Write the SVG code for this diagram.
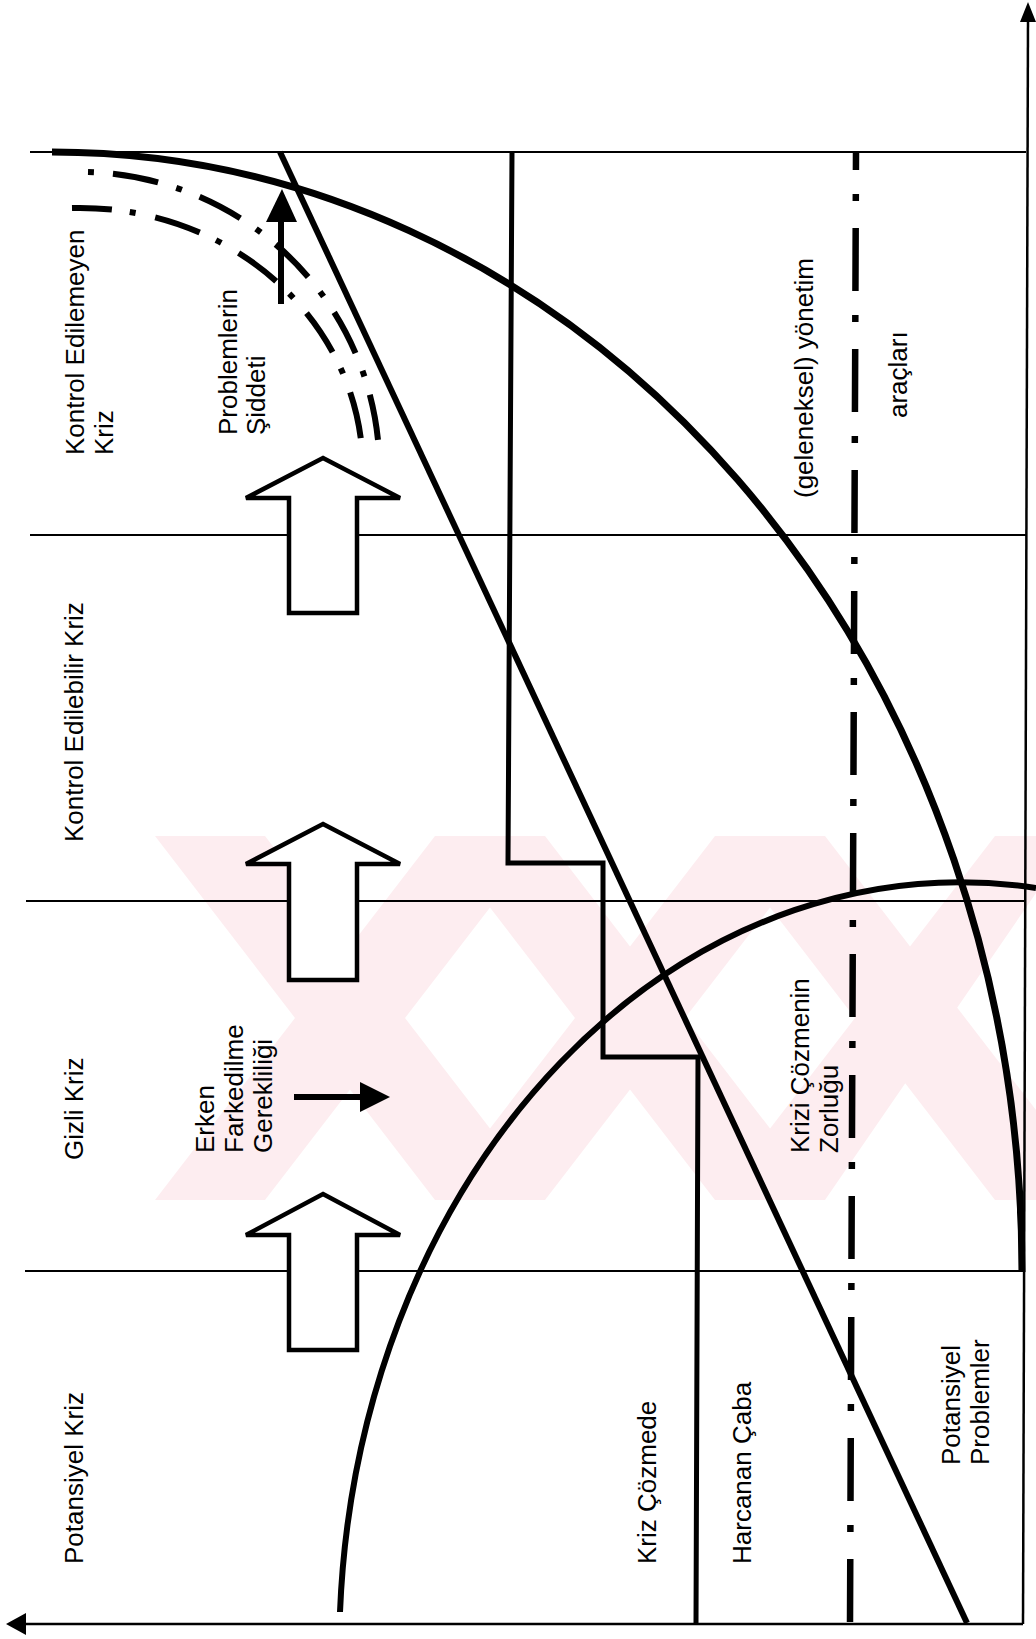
<svg xmlns="http://www.w3.org/2000/svg" width="1036" height="1639" viewBox="0 0 1036 1639">
<style>
.bg{fill:#ffffff}
.wm{fill:#fdedf0}
.grid{stroke:#000;stroke-width:2.2;fill:none}
.axis{stroke:#000;stroke-width:2.5;fill:none}
.head{fill:#000;stroke:none}
.thick{stroke:#000;stroke-width:7;fill:none;stroke-linecap:butt}
.mid{stroke:#000;stroke-width:6;fill:none}
.step{stroke:#000;stroke-width:5;fill:none;stroke-linejoin:miter}
.dashv{stroke:#000;stroke-width:6.5;fill:none;stroke-dasharray:63 24 7 27;stroke-dashoffset:45}
.dasharc{stroke:#000;stroke-width:6;fill:none;stroke-dasharray:6 19 46 19}
.dasharc2{stroke:#000;stroke-width:6;fill:none;stroke-dasharray:47 18 6 20;stroke-dashoffset:7}
.block{fill:#fff;stroke:#000;stroke-width:4.5;stroke-linejoin:miter}
.lbl{font-family:"Liberation Sans",Arial,sans-serif;font-size:26px;fill:#000}
</style>
<rect class="bg" x="0" y="0" width="1036" height="1639"/>
<g id="watermark">
  <polygon class="wm" points="155,836 265,836 545,1200 435,1200"/>
  <polygon class="wm" points="435,836 545,836 265,1200 155,1200"/>
  <polygon class="wm" points="435,836 545,836 825,1200 715,1200"/>
  <polygon class="wm" points="715,836 825,836 545,1200 435,1200"/>
  <polygon class="wm" points="715,836 825,836 1036,1110 1036,1200 995,1200"/>
  <polygon class="wm" points="995,836 1036,836 1036,893 825,1200 715,1200"/>
</g>
<g id="stage-lines">
  <line class="grid" x1="30" y1="152" x2="1026" y2="152"/>
  <line class="grid" x1="30" y1="535" x2="1026" y2="535"/>
  <line class="grid" x1="26" y1="901" x2="1025" y2="901"/>
  <line class="grid" x1="25" y1="1271" x2="1024" y2="1271"/>
</g>
<g id="axes">
  <line class="axis" x1="1023" y1="1624" x2="1028" y2="18"/>
  <polygon class="head" points="1028,2 1020,22 1036,22"/>
  <line class="axis" x1="1023" y1="1624" x2="22" y2="1624"/>
  <polygon class="head" points="6,1624 26,1613 26,1635"/>
</g>
<g id="stage-arrows">
  <polygon id="arrow-up-1" class="block" points="323,458 400,498 357,498 357,613 289,613 289,498 246,498"/>
  <polygon id="arrow-up-2" class="block" points="323,824 400,864 357,864 357,980 289,980 289,864 246,864"/>
  <polygon id="arrow-up-3" class="block" points="323,1194 400,1235 357,1235 357,1350 289,1350 289,1235 246,1235"/>
</g>
<g id="connectors">
  <path id="severity-curve" class="thick" d="M 52 152 A 970 1120 0 0 1 1022 1272"/>
  <path id="potential-curve" class="mid" d="M 340 1612 A 621 768 0 0 1 1036 888"/>
  <line id="difficulty-line" class="mid" x1="280" y1="152" x2="967" y2="1623"/>
  <path id="effort-step" class="step" d="M 512 152 L 508 863 H 603 V 1057 H 698 L 696 1624"/>
  <line id="tools-line" class="dashv" x1="856" y1="152" x2="850" y2="1624"/>
  <path id="dash-curve-outer" class="dasharc" d="M 88 172 A 300 298 0 0 1 378 440"/>
  <path id="dash-curve-inner" class="dasharc2" d="M 72 208 A 283 262 0 0 1 361 440"/>
  <line class="mid" x1="281" y1="304" x2="281" y2="218"/>
  <polygon class="head" points="282,189 297,222 266,222"/>
  <line class="mid" stroke-width="8" x1="294" y1="1097" x2="364" y2="1097"/>
  <polygon class="head" points="390,1097 360,1082 360,1112"/>
</g>
<g id="node-kontrol-edilemeyen">
  <text class="lbl" transform="translate(84,455) rotate(-90)">Kontrol Edilemeyen</text>
  <text class="lbl" transform="translate(113,455) rotate(-90)">Kriz</text>
</g>
<g id="node-kontrol-edilebilir">
  <text class="lbl" transform="translate(83,842) rotate(-90)">Kontrol Edilebilir Kriz</text>
</g>
<g id="node-gizli">
  <text class="lbl" transform="translate(83,1160) rotate(-90)">Gizli Kriz</text>
</g>
<g id="node-potansiyel-kriz">
  <text class="lbl" transform="translate(83,1564) rotate(-90)">Potansiyel Kriz</text>
</g>
<g id="node-siddet">
  <text class="lbl" transform="translate(237,435) rotate(-90)">Problemlerin</text>
  <text class="lbl" transform="translate(265,435) rotate(-90)">Şiddeti</text>
</g>
<g id="node-erken">
  <text class="lbl" transform="translate(214,1153) rotate(-90)">Erken</text>
  <text class="lbl" transform="translate(243,1153) rotate(-90)">Farkedilme</text>
  <text class="lbl" transform="translate(272,1153) rotate(-90)">Gerekliliği</text>
</g>
<g id="node-yonetim">
  <text class="lbl" transform="translate(813,498) rotate(-90)">(geleneksel) yönetim</text>
  <text class="lbl" transform="translate(907,418) rotate(-90)">araçları</text>
</g>
<g id="node-zorluk">
  <text class="lbl" transform="translate(809,1153) rotate(-90)">Krizi Çözmenin</text>
  <text class="lbl" transform="translate(838,1153) rotate(-90)">Zorluğu</text>
</g>
<g id="node-caba">
  <text class="lbl" transform="translate(656,1564) rotate(-90)">Kriz Çözmede</text>
  <text class="lbl" transform="translate(751,1564) rotate(-90)">Harcanan Çaba</text>
</g>
<g id="node-potansiyel-problemler">
  <text class="lbl" transform="translate(960,1465) rotate(-90)">Potansiyel</text>
  <text class="lbl" transform="translate(989,1465) rotate(-90)">Problemler</text>
</g>
</svg>
